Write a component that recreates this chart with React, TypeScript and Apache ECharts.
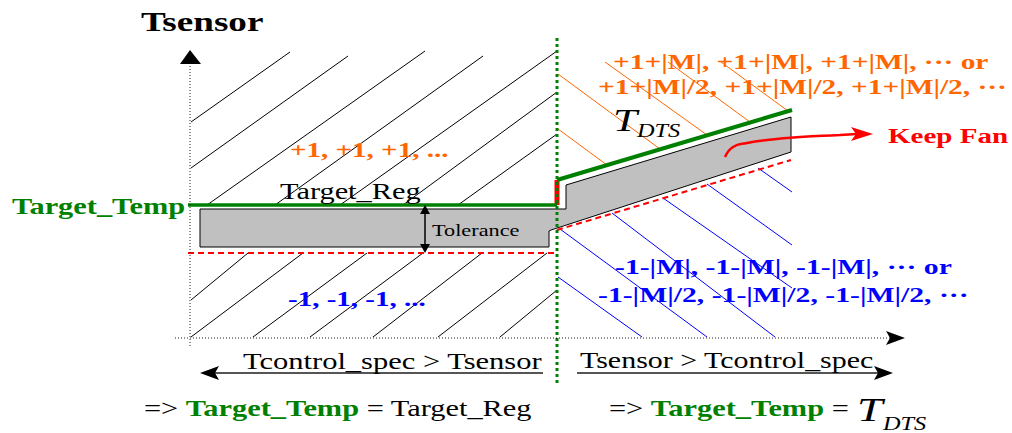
import React, { useEffect, useRef } from "react";
import * as echarts from "echarts";

// Diagram coordinate space: x 0..1012 (right), y 0..433 (downwards)
const X_RANGE = [0, 1012];
const Y_RANGE = [0, 433];

// Hatch segments
const upperHatch = [
  [[191, 122], [290, 52]],
  [[191, 168], [348, 56]],
  [[207, 205], [425, 51]],
  [[275, 205], [483, 56]],
  [[340, 205], [557, 51]],
  [[403, 205], [557, 92]],
  [[458, 205], [557, 134]],
];
const lowerHatch = [
  [[191, 300], [248, 253]],
  [[191, 337], [303, 253]],
  [[253, 337], [367, 253]],
  [[310, 337], [423, 253]],
  [[373, 337], [482, 253]],
  [[438, 337], [547, 253]],
  [[500, 337], [557, 290]],
];
const orangeHatch = [
  [[558, 74], [660, 149]],
  [[558, 129], [607, 165]],
  [[605, 62], [707, 135]],
  [[668, 62], [750, 122]],
  [[721, 62], [788, 111]],
];
const blueHatch = [
  [[560, 229], [707, 337]],
  [[558, 277], [642, 337]],
  [[612, 213], [775, 337]],
  [[663, 198], [792, 288]],
  [[707, 184], [792, 245]],
  [[758, 168], [792, 192]],
];

// Tolerance band
const band = [
  [200, 209], [566, 209], [566, 185], [791, 117], [791, 152],
  [551, 230], [549, 231], [549, 247], [200, 247],
];

// Curves
const targetRegLine = [[188, 205], [557, 205]];
const tdtsLine = [[557, 180], [792, 110]];
const jumpLine = [[557, 180], [557, 205]];
const lowerLimitFlat = [[188, 253], [557, 253]];
const lowerLimitSlope = [[557, 230], [791, 160]];
const splitLine = [[557, 38], [557, 386]];
const yAxisLine = [[190, 346], [190, 60]];
const xAxisLine = [[175, 338], [892, 338]];
const leftSpan = [[214, 373], [543, 373]];
const rightSpan = [[577, 373], [879, 373]];
const toleranceLine = [[425, 210], [425, 248]];
const keepFanCurve = [[725, 157], [733, 147], [747, 143], [767, 140], [800, 137], [840, 135], [857, 134]];

// Arrow heads
const blackHeads = [
  [[190, 50], [180, 64], [201, 64]],
  [[905, 338], [886, 331], [890, 338], [886, 345]],
  [[200, 373], [219, 366], [215, 373], [219, 380]],
  [[893, 373], [874, 366], [878, 373], [874, 380]],
  [[425, 205], [420, 214], [430, 214]],
  [[425, 253], [420, 244], [430, 244]],
];
const redHeads = [
  [[873, 134], [851, 127], [856, 134], [851, 141]],
];

// Texts
const SERIF = "Liberation Serif";
const SX = 1.35;
const ORANGE = "#FF6600";
const BLUE = "#0000FF";
const GREEN = "#008000";
const RED = "#FF0000";

type T = { t: string; x: number; y: number; s: number; w?: string; i?: boolean; c?: string };
const texts: T[] = [
  { t: "Tsensor", x: 141, y: 22, s: 27.5, w: "bold", c: "#000" },
  { t: "Target_Temp", x: 12, y: 206, s: 22.5, w: "bold", c: GREEN },
  { t: "Target_Reg", x: 280, y: 191, s: 22.5, c: "#000" },
  { t: "Tolerance", x: 432, y: 231, s: 16.5, c: "#000" },
  { t: "+1, +1, +1, ...", x: 290, y: 150, s: 21.5, w: "bold", c: ORANGE },
  { t: "-1, -1, -1, ...", x: 288, y: 299, s: 21.5, w: "bold", c: BLUE },
  { t: "+1+|M|, +1+|M|, +1+|M|, \u00b7\u00b7\u00b7 or", x: 613, y: 62, s: 21.8, w: "bold", c: ORANGE },
  { t: "+1+|M|/2, +1+|M|/2, +1+|M|/2, \u00b7\u00b7\u00b7", x: 598, y: 87, s: 21.8, w: "bold", c: ORANGE },
  { t: "-1-|M|, -1-|M|, -1-|M|, \u00b7\u00b7\u00b7 or", x: 615, y: 267, s: 22, w: "bold", c: BLUE },
  { t: "-1-|M|/2, -1-|M|/2, -1-|M|/2, \u00b7\u00b7\u00b7", x: 598, y: 295, s: 22, w: "bold", c: BLUE },
  { t: "T", x: 613, y: 120, s: 32, i: true, c: "#000" },
  { t: "DTS", x: 637, y: 131, s: 18, i: true, c: "#000" },
  { t: "Keep Fan", x: 888, y: 136, s: 21.5, w: "bold", c: RED },
  { t: "Tcontrol_spec > Tsensor", x: 243, y: 361, s: 22.6, c: "#000" },
  { t: "Tsensor > Tcontrol_spec", x: 580, y: 361, s: 22.2, c: "#000" },
  { t: "T", x: 857, y: 410, s: 34, i: true, c: "#000" },
  { t: "DTS", x: 883, y: 424, s: 18, i: true, c: "#000" },
];
const richTexts = [
  { t: "=> {g|Target_Temp} = Target_Reg", x: 144, y: 408, s: 22.5 },
  { t: "=> {g|Target_Temp} =", x: 609, y: 408, s: 22.5 },
];

function segSeries(name: string, segs: number[][][], color: string, width: number, z: number) {
  return {
    type: "lines",
    name,
    coordinateSystem: "cartesian2d",
    silent: true,
    z,
    lineStyle: { color, width, opacity: 1, curveness: 0 },
    data: segs.map((s) => ({ coords: s })),
  };
}

function lineSeries(name: string, data: number[][], color: string, width: number, type: any, z: number, smooth: any = false) {
  return {
    type: "line",
    name,
    data,
    smooth,
    symbol: "none",
    silent: true,
    z,
    lineStyle: { color, width, type, cap: "butt" },
  };
}

function polySeries(name: string, polys: number[][][], fill: string, stroke: string | null, lw: number, z: number) {
  return {
    type: "custom",
    name,
    silent: true,
    z,
    clip: false,
    data: polys.map((_, i) => [i, 0]),
    encode: { x: -1, y: -1 },
    renderItem: (params: any, api: any) => {
      const pts = polys[params.dataIndex].map((p) => api.coord(p));
      return {
        type: "polygon",
        shape: { points: pts },
        style: { fill, stroke: stroke || "none", lineWidth: lw },
      };
    },
  };
}

export default function App() {
  const ref = useRef<HTMLDivElement>(null);
  useEffect(() => {
    if (!ref.current) return;
    const chart = echarts.init(ref.current, null, { renderer: "svg" });
    const graphic: any[] = texts.map((d) => ({
      type: "text",
      x: d.x,
      y: d.y,
      scaleX: SX,
      z: 100,
      silent: true,
      style: {
        text: d.t,
        fill: d.c,
        fontFamily: SERIF,
        fontSize: d.s,
        fontWeight: d.w || "normal",
        fontStyle: d.i ? "italic" : "normal",
        align: "left",
        verticalAlign: "middle",
      },
    }));
    richTexts.forEach((d) => {
      graphic.push({
        type: "text",
        x: d.x,
        y: d.y,
        scaleX: SX,
        z: 100,
        silent: true,
        style: {
          text: d.t,
          fill: "#000",
          fontFamily: SERIF,
          fontSize: d.s,
          align: "left",
          verticalAlign: "middle",
          rich: {
            g: { fill: GREEN, color: GREEN, fontWeight: "bold", fontFamily: SERIF, fontSize: d.s },
          },
        },
      });
    });
    chart.setOption({
      animation: false,
      backgroundColor: "#fff",
      grid: { left: 0, right: 0, top: 0, bottom: 0 },
      xAxis: { type: "value", min: X_RANGE[0], max: X_RANGE[1], show: false },
      yAxis: { type: "value", min: Y_RANGE[0], max: Y_RANGE[1], inverse: true, show: false },
      graphic,
      series: [
        segSeries("upperHatch", upperHatch, "#000", 1, 1),
        segSeries("lowerHatch", lowerHatch, "#000", 1, 1),
        segSeries("orangeHatch", orangeHatch, ORANGE, 1, 1),
        segSeries("blueHatch", blueHatch, BLUE, 1, 1),
        polySeries("band", [band], "#C0C0C0", "#000", 1, 2),
        lineSeries("lowerFlat", lowerLimitFlat, RED, 2, [6, 4], 3),
        lineSeries("lowerSlope", lowerLimitSlope, RED, 2, [6, 4], 3),
        lineSeries("jump", jumpLine, RED, 5, "solid", 4),
        lineSeries("targetReg", targetRegLine, GREEN, 3.5, "solid", 4),
        lineSeries("tdts", tdtsLine, GREEN, 4, "solid", 4),
        lineSeries("split", splitLine, GREEN, 3, [3, 3], 5),
        lineSeries("yAxis", yAxisLine, "#222", 1, [1, 2], 5),
        lineSeries("xAxis", xAxisLine, "#222", 1, [1, 2], 5),
        lineSeries("leftSpan", leftSpan, "#555", 2, "solid", 5),
        lineSeries("rightSpan", rightSpan, "#555", 2, "solid", 5),
        lineSeries("tolerance", toleranceLine, "#000", 1.5, "solid", 5),
        lineSeries("keepFan", keepFanCurve, RED, 2.5, "solid", 5, 0.5),
        polySeries("blackHeads", blackHeads, "#000", null, 0, 6),
        polySeries("redHeads", redHeads, RED, null, 0, 6),
      ],
    });
    return () => chart.dispose();
  }, []);
  return (
    <div
      ref={ref}
      style={{ position: "absolute", left: 0, top: 0, width: 1012, height: 433, background: "#fff" }}
    />
  );
}
